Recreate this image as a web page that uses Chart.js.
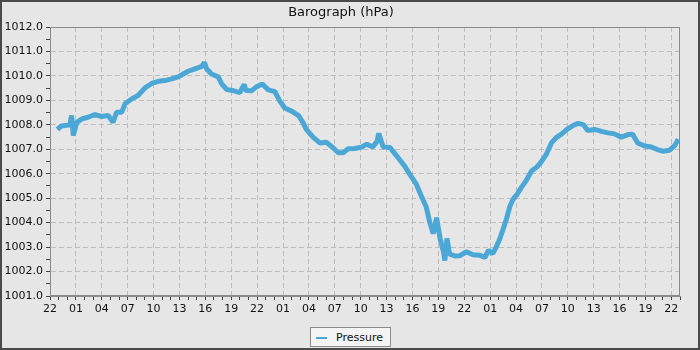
<!DOCTYPE html>
<html>
<head>
<meta charset="utf-8">
<script src="https://cdn.jsdelivr.net/npm/chart.js@4/dist/chart.umd.min.js"></script>
<style>
  html, body { margin: 0; padding: 0; background: #e6e6e6; }
  #wrap { position: relative; width: 700px; height: 350px; box-sizing: border-box; border: 2px solid #4a4a4a; background: #e6e6e6; }
  #c { display: block; }
  #legend { position: absolute; left: 308px; top: 325px; width: 81px; height: 20px; box-sizing: border-box;
    border: 1px solid #8c8c8c; background: #f4f4f4; font: 11px "DejaVu Sans", sans-serif; color: #111; }
  #legend .sw { position: absolute; left: 5px; top: 9px; width: 11px; height: 2px; background: rgb(75,167,214); }
  #legend .tx { position: absolute; left: 25px; top: 3px; }
</style>
</head>
<body>
<div id="wrap">
  <canvas id="c" width="696" height="346"></canvas>
  <div id="legend"><span class="sw"></span><span class="tx">Pressure</span></div>
</div>
<script>
// hours since the first 22:00 on the axis
const hours = [0.85,1.3,1.74,2.3,2.5,2.7,3.1,3.7,4.4,5.2,5.98,6.75,7.3,7.7,8.3,8.7,9.46,10.2,11.0,11.78,12.55,13.3,14.1,14.86,16.0,16.8,17.6,17.9,18.15,18.7,19.5,19.9,20.5,21.2,22.0,22.5,22.7,23.35,23.9,24.6,25.3,26.06,26.6,27.2,28.0,28.8,29.3,29.7,30.5,31.27,32.0,32.8,33.4,33.97,34.55,35.3,36.1,36.7,37.4,37.9,38.1,38.6,39.4,39.96,40.5,41.1,41.7,42.46,43.0,43.6,44.0,44.4,44.8,45.2,45.6,45.75,46.0,46.3,46.9,47.5,48.26,49.0,49.8,50.4,50.8,51.3,51.7,52.1,52.5,52.9,53.3,53.7,54.1,54.6,55.2,55.8,56.4,56.9,57.5,58.1,58.7,59.3,59.9,60.6,61.2,61.8,62.3,63.1,63.9,64.65,65.4,66.2,66.97,67.5,68.1,68.9,69.7,70.4,71.0,71.8,72.4,72.8];
const pressure = [1007.81,1007.95,1007.97,1008.0,1008.38,1007.56,1008.1,1008.24,1008.31,1008.42,1008.34,1008.38,1008.1,1008.51,1008.51,1008.86,1009.06,1009.2,1009.51,1009.69,1009.78,1009.81,1009.88,1009.96,1010.19,1010.29,1010.39,1010.55,1010.29,1010.08,1009.96,1009.67,1009.44,1009.4,1009.32,1009.65,1009.4,1009.39,1009.55,1009.67,1009.43,1009.36,1008.99,1008.69,1008.56,1008.38,1008.1,1007.81,1007.49,1007.26,1007.29,1007.06,1006.86,1006.86,1007.02,1007.03,1007.09,1007.21,1007.09,1007.33,1007.65,1007.09,1007.07,1006.82,1006.58,1006.31,1005.97,1005.56,1005.11,1004.64,1004.02,1003.55,1004.2,1003.35,1002.8,1002.45,1003.35,1002.71,1002.64,1002.65,1002.81,1002.69,1002.67,1002.57,1002.87,1002.73,1003.0,1003.32,1003.73,1004.16,1004.68,1004.98,1005.14,1005.43,1005.73,1006.11,1006.27,1006.47,1006.79,1007.26,1007.49,1007.63,1007.81,1007.97,1008.06,1008.01,1007.77,1007.81,1007.73,1007.67,1007.63,1007.49,1007.6,1007.62,1007.26,1007.13,1007.09,1006.99,1006.92,1006.96,1007.16,1007.41];
const startHour = 22;
const xMin = 0, xMax = 73;
const yMin = 1001, yMax = 1012;
const seriesName = 'Pressure';
const titleText = 'Barograph (hPa)';

const FONT = '"DejaVu Sans", sans-serif';
const gridCol = '#bdbdbd';

const frame = {
  id: 'frame',
  afterDraw(chart) {
    const a = chart.chartArea, ctx = chart.ctx;
    ctx.save();
    ctx.strokeStyle = '#8a8a8a';
    ctx.lineWidth = 1;
    ctx.strokeRect(Math.round(a.left) + 0.5, Math.round(a.top) + 0.5, Math.round(a.right - a.left) - 1, Math.round(a.bottom - a.top) - 1);
    ctx.restore();
  }
};

new Chart(document.getElementById('c'), {
  type: 'line',
  data: {
    datasets: [{
      label: seriesName,
      data: hours.map((h, i) => ({ x: h, y: pressure[i] })),
      borderColor: 'rgb(75,167,214)',
      backgroundColor: 'rgb(75,167,214)',
      borderWidth: 5,
      borderJoinStyle: 'bevel',
      pointRadius: 0,
      tension: 0,
      fill: false
    }]
  },
  plugins: [frame],
  options: {
    responsive: false,
    animation: false,
    layout: { padding: { left: 0, right: 18, top: 0, bottom: 0 } },
    plugins: {
      legend: { display: false },
      tooltip: { enabled: false },
      title: {
        display: true, text: titleText, color: '#111',
        font: { family: FONT, size: 13, weight: 'normal', lineHeight: '16px' },
        padding: { top: 3, bottom: 6 }
      }
    },
    scales: {
      x: {
        type: 'linear', min: xMin, max: xMax,
        afterFit(s) { s.height = 52; },
        ticks: {
          stepSize: 1, autoSkip: false, maxRotation: 0, includeBounds: false,
          color: '#111', font: { family: FONT, size: 11 }, padding: 3,
          callback(v) {
            if (v % 3 !== 0) return '';
            return String((startHour + v) % 24).padStart(2, '0');
          }
        },
        grid: {
          color: (c) => (c.tick && c.tick.value % 3 === 0 && c.tick.value > xMin) ? gridCol : 'rgba(0,0,0,0)',
          tickColor: '#444', tickLength: 4, tickBorderDash: [], lineWidth: 1
        },
        border: { display: true, color: '#8a8a8a', dash: [5, 3] }
      },
      y: {
        type: 'linear', min: yMin, max: yMax,
        afterFit(s) { s.width = 48; },
        ticks: {
          stepSize: 0.5, autoSkip: false, color: '#111', font: { family: FONT, size: 11 }, padding: 3,
          callback(v) { return Number.isInteger(v) ? v.toFixed(1) : ''; }
        },
        grid: {
          color: (c) => (c.tick && Number.isInteger(c.tick.value) && c.tick.value > yMin && c.tick.value < yMax) ? gridCol : 'rgba(0,0,0,0)',
          tickColor: '#444', tickLength: 4, tickBorderDash: [], lineWidth: 1
        },
        border: { display: true, color: '#8a8a8a', dash: [5, 3] }
      }
    }
  }
});
</script>
</body>
</html>
